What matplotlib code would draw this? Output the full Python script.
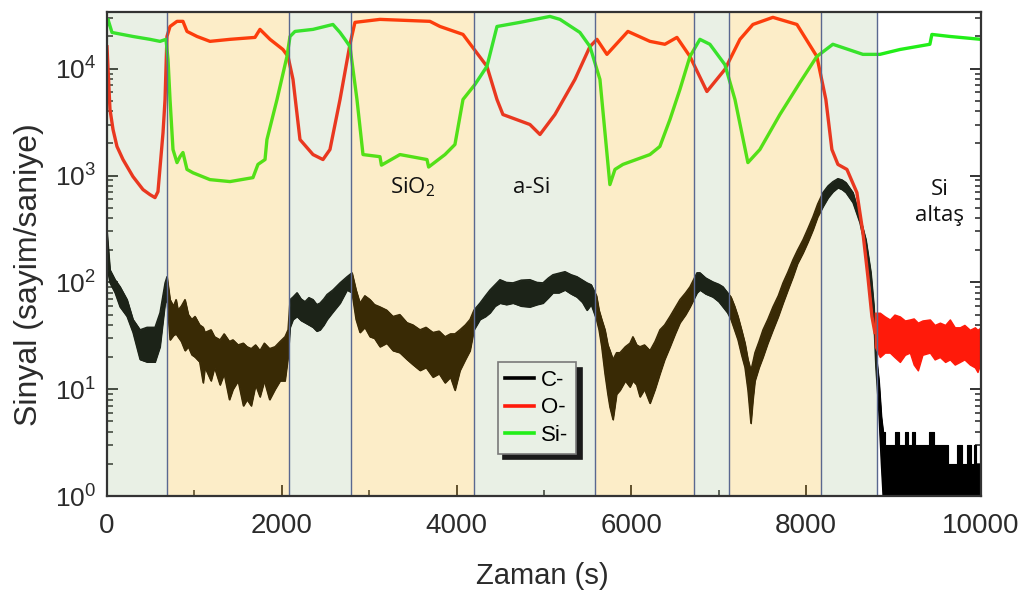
import matplotlib
matplotlib.use("Agg")
import matplotlib.pyplot as plt
from matplotlib.ticker import LogLocator, MultipleLocator

# ---------------- data ----------------
# layer boundaries (s) and layer type of each interval
layer_edges = [0, 687, 2085, 2795, 4204, 5578, 6712, 7113, 8167, 8809, 10000]
layer_kind = ["Si", "SiO2", "Si", "SiO2", "Si", "SiO2", "Si", "SiO2", "Si", "sub"]

# C- : noisy signal, upper / lower envelope
c_time = [0, 34, 92, 149, 229, 297, 378, 458, 549, 606, 664, 686,
          721, 760, 790, 812, 850, 892, 930, 970, 1007, 1060, 1100, 1121, 1190,
          1230, 1293, 1340, 1400, 1441, 1500, 1560, 1602, 1650, 1700, 1750,
          1800, 1860, 1922, 1980, 2036, 2071,
          2094, 2128, 2174, 2220, 2265, 2310, 2357, 2400, 2437, 2480, 2517,
          2585, 2666, 2746, 2803,
          2849, 2894, 2950, 3009, 3060, 3123, 3200, 3272, 3350, 3432, 3500,
          3581, 3650, 3729, 3800, 3867, 3930, 3981, 4038, 4100, 4153, 4198,
          4267, 4330, 4382, 4440, 4496, 4570, 4645, 4740, 4839, 4920, 4988,
          5050, 5102, 5170, 5240, 5310, 5377, 5440, 5491, 5540,
          5600, 5629, 5660, 5697, 5730, 5754, 5789, 5830, 5869, 5930, 5983,
          6017, 6060, 6098, 6150, 6212, 6270, 6326, 6380, 6441, 6500, 6555,
          6620, 6670,
          6750, 6784, 6850, 6933, 7000, 7047, 7100,
          7139, 7180, 7219, 7260, 7299, 7333, 7367, 7390, 7413, 7460, 7505,
          7560, 7619, 7680, 7734, 7790, 7848, 7900, 7963, 8020, 8077, 8130, 8191,
          8250, 8306, 8363, 8410, 8455, 8535, 8614, 8683, 8740, 8775, 8797,
          8832, 8860,
          8880, 8920, 8960, 9000, 9040, 9080, 9120, 9150, 9190, 9220, 9260,
          9300, 9340, 9380, 9440, 9480, 9520, 9560, 9600, 9650, 9700, 9760,
          9800, 9870, 9900, 9930, 9960, 10000]
c_high = [292, 131, 106, 91, 69, 45, 36, 38, 38, 52, 99, 113,
          69, 60, 69, 55, 60, 69, 50, 45, 48, 40, 38, 34, 36,
          31, 29, 33, 28, 29, 26, 27, 25, 24, 26, 23,
          27, 24, 25, 28, 31, 36,
          69, 73, 80, 70, 66, 72, 69, 62, 64, 70, 77,
          85, 99, 113, 123,
          85, 64, 75, 69, 62, 59, 55, 48, 50, 42, 40,
          36, 38, 34, 35, 31, 33, 33, 36, 40, 45, 55,
          64, 75, 85, 95, 106, 100, 99, 105, 106, 100, 99,
          110, 118, 122, 126, 118, 113, 105, 99, 95,
          75, 55, 45, 36, 26, 23, 19, 22, 22, 25, 27,
          31, 26, 25, 26, 23, 28, 36, 40, 48, 58, 69,
          80, 91,
          123, 123, 110, 101, 96, 91, 80,
          73, 60, 48, 36, 27, 19, 15, 18, 22, 28, 36,
          45, 59, 75, 99, 125, 163, 200, 251, 320, 412, 540, 692,
          800, 877, 935, 910, 858, 692, 412, 251, 123, 59, 22,
          12, 5.5,
          4, 3, 3, 3, 4, 3, 3, 4, 3, 4, 3,
          3, 3, 3, 4, 3, 3, 3, 3, 2, 2, 3,
          2, 3, 2, 3, 2, 2]
c_low = [140, 99, 80, 59, 48, 34, 19, 18, 18, 25, 64, 69,
         29, 32, 33, 31, 28, 23, 25, 21, 20, 18, 11.5, 16, 12,
         16, 11, 14, 8, 10, 12, 7, 8, 7, 11, 8.5,
         12, 8, 10, 12, 12, 20,
         38, 45, 48, 44, 42, 40, 38, 35, 36, 40, 45,
         53, 64, 85, 80,
         45, 34, 38, 31, 30, 25, 27, 23, 22, 19, 17,
         15, 16, 13, 14, 11.5, 13, 9.8, 15, 19, 23, 36,
         45, 48, 52, 60, 64, 62, 64, 60, 59, 62, 64,
         72, 80, 80, 85, 78, 73, 65, 55, 62,
         45, 36, 25, 14, 9, 6.8, 5.2, 9, 9.8, 12, 10.5,
         12, 11, 8.5, 10, 7.4, 10, 14, 19, 25, 33, 42,
         50, 59,
         80, 85, 78, 73, 66, 59, 52,
         45, 36, 29, 21, 16, 9.8, 4.8, 8, 12, 16, 20,
         27, 36, 48, 64, 85, 113, 150, 189, 240, 311, 410, 512,
         620, 706, 770, 740, 692, 557, 362, 202, 91, 42, 16,
         6, 2,
         1, 1, 1, 1, 1, 1, 1, 1, 1, 1, 1,
         1, 1, 1, 1, 1, 1, 1, 1, 1, 1, 1,
         1, 1, 1, 1, 1, 1]
c_substrate_start = 8880  # counting-noise floor in the substrate

# O- : profile through the stack
o_time = [0, 34, 69, 114, 183, 297, 412, 492, 549, 583, 641, 664, 686,
          721, 801, 869, 915, 1030, 1178, 1407, 1693, 1750, 1865, 2013,
          2071, 2128, 2208, 2357, 2471, 2551, 2666, 2780, 2837, 3123, 3695,
          3810, 4073, 4347, 4462, 4530, 4839, 4954, 5125, 5354, 5526, 5606,
          5720, 5960, 6212, 6383, 6521, 6670, 6864, 7070, 7242, 7390, 7619,
          7894, 8122, 8225, 8294, 8363, 8466, 8580, 8649, 8706, 8752, 8786]
o_value = [16000, 4150, 2690, 1870, 1410, 977, 738, 662, 621, 706, 2520, 5140, 20000,
           24800, 27700, 27700, 22300, 20000, 18000, 18800, 19600, 23300, 18800, 15100,
           13000, 7930, 2170, 1570, 1410, 1750, 5140, 16900, 27100, 28900, 27700,
           24800, 20900, 10500, 5140, 3720, 3000, 2420, 3720, 7930, 16100, 18800,
           13600, 22300, 18000, 16900, 19600, 13000, 6110, 9840, 18800, 25900, 30200,
           25900, 13000, 5140, 1750, 1270, 1140, 692, 292, 113, 48, 34]
# O- in the Si substrate (noise band)
o_sub_time = [8786, 8843, 8900, 8957, 9010, 9072, 9130, 9186, 9230, 9278, 9330,
              9415, 9470, 9530, 9590, 9644, 9700, 9758, 9810, 9873, 9930, 9960, 10000]
o_sub_high = [52, 52, 48, 45, 50, 48, 44, 45, 46, 42, 44,
              45, 40, 42, 40, 45, 38, 38, 40, 36, 38, 36, 38]
o_sub_low = [25, 20, 22, 22, 20, 18, 21, 22, 17, 15, 21,
             22, 19, 20, 18, 19, 17, 18, 19, 17, 16, 14.5, 18]

# Si- : profile through the stack
si_time = [0, 11, 57, 297, 492, 606, 675, 698, 721, 755, 801, 835, 869, 915,
           984, 1178, 1407, 1670, 1727, 1808, 1830, 1945, 2059, 2094, 2151,
           2357, 2585, 2666, 2723, 2780, 2860, 2929, 3123, 3140, 3352, 3661,
           3680, 3867, 3981, 4073, 4210, 4347, 4462, 4725, 5068, 5183, 5411,
           5526, 5640, 5754, 5812, 5903, 6212, 6326, 6441, 6555, 6670, 6784,
           6898, 7070, 7185, 7333, 7470, 7699, 7928, 8122, 8305, 8649, 8843,
           9072, 9415, 9438, 9644, 10000]
si_value = [26000, 28900, 21800, 20000, 18800, 18000, 18800, 12200, 5140, 1750, 1320,
            1500, 1640, 1140, 1060, 915, 877, 955, 1270, 1410, 2170, 5140, 13000,
            20000, 22300, 23300, 25900, 21800, 18800, 16100, 5140, 1570, 1500, 1250,
            1570, 1410, 1200, 1570, 1950, 5140, 7110, 10500, 24800, 27100, 30800,
            28900, 21800, 16100, 7930, 822, 1140, 1270, 1570, 1870, 3340, 6380,
            13000, 18800, 16900, 10900, 5140, 1320, 1750, 3720, 7400, 13000, 16900,
            13600, 13600, 15100, 16900, 20900, 20000, 18800]

layer_labels = [("SiO$_2$", 3500, 770), ("a-Si", 4862, 770), ("Si\naltaş", 9530, 560)]

# ---------------- style ----------------
plt.rcParams["font.family"] = ["Liberation Sans", "DejaVu Sans"]
plt.rcParams["mathtext.fontset"] = "custom"
plt.rcParams["mathtext.rm"] = "Liberation Sans"
plt.rcParams["mathtext.default"] = "regular"

text_col = "#2b2b2b"
black = "#000000"
red = "#ff1a0a"
green = "#22ee18"

fig = plt.figure(figsize=(10.24, 5.92), dpi=100)
ax = fig.add_axes([0.1045, 0.162, 0.8535, 0.818])
ax.set_yscale("log")
ax.set_xlim(0, 10000)
ax.set_ylim(1, 3.4e4)

# signals: C- band (smooth part + step-like counting floor)
k = c_time.index(c_substrate_start)
ax.fill_between(c_time[:k + 1], c_low[:k + 1], c_high[:k + 1],
                color=black, lw=0.8, zorder=2)
ax.fill_between(c_time[k:], c_low[k:], c_high[k:], step="mid",
                color=black, lw=0.8, zorder=2)
ax.plot(c_time[:k + 1], c_high[:k + 1], color=black, lw=1.0, zorder=2, label="C-")
ax.plot(c_time[:k + 1], c_low[:k + 1], color=black, lw=1.0, zorder=2)
ax.plot(o_time, o_value, color=red, lw=2.4, zorder=2, label="O-")
ax.fill_between(o_sub_time, o_sub_low, o_sub_high, color=red, lw=1.0, zorder=2)
ax.plot(si_time, si_value, color=green, lw=2.4, zorder=2, label="Si-")

# translucent layer shading on top of the curves
shade = {"Si": ((0.57, 0.705, 0.49), 0.2), "SiO2": ((0.966, 0.70, 0.085), 0.235)}
for x0, x1, kind in zip(layer_edges[:-1], layer_edges[1:], layer_kind):
    if kind in shade:
        col, a = shade[kind]
        ax.axvspan(x0, x1, color=col, alpha=a, lw=0, zorder=3)
for xe in layer_edges[1:-1]:
    ax.axvline(xe, color="#5a6890", lw=1.0, zorder=4)

for txt, tx, ty in layer_labels:
    ax.text(tx, ty, txt, ha="center", va="center", fontsize=16,
            family=["Open Sans", "DejaVu Sans"], color="#111111", zorder=6,
            linespacing=1.3)

# axes, ticks
for side in ["left", "bottom", "right", "top"]:
    ax.spines[side].set_color("#333333")
    ax.spines[side].set_linewidth(1.6)
    ax.spines[side].set_zorder(7)
ax.xaxis.set_major_locator(MultipleLocator(2000))
ax.xaxis.set_minor_locator(MultipleLocator(1000))
ax.yaxis.set_major_locator(LogLocator(base=10, numticks=10))
ax.yaxis.set_minor_locator(LogLocator(base=10, subs=range(2, 10), numticks=20))
ax.tick_params(axis="both", which="both", direction="in", colors="#333333",
               labelcolor=text_col, right=True, top=False, zorder=7)
ax.tick_params(axis="both", which="major", length=8, width=1.4)
ax.tick_params(axis="both", which="minor", length=4, width=1.2)
ax.tick_params(axis="x", labelsize=20, pad=12)
ax.tick_params(axis="y", labelsize=19, pad=8)

ax.set_xlabel("Zaman (s)", fontsize=21, color=text_col)
ax.set_ylabel("Sinyal (sayim/saniye)", fontsize=23, color=text_col)
ax.xaxis.set_label_coords(0.498, -0.136)
ax.yaxis.set_label_coords(-0.072, 0.457)

leg = ax.legend(loc="upper left", bbox_to_anchor=(0.447, 0.277), borderaxespad=0,
                frameon=True, fancybox=False, framealpha=1,
                facecolor="#e9f0e5", edgecolor="#7a7a7a",
                shadow={"color": "#1a1a1a", "alpha": 1, "ox": 4, "oy": -4},
                fontsize=16, handlelength=1.3, handletextpad=0.3,
                borderpad=0.35, labelspacing=0.3)
leg.get_frame().set_linewidth(1.2)
for h in leg.legend_handles:
    h.set_linewidth(2.6)
leg.set_zorder(8)

fig.savefig("out.png", dpi=100)
